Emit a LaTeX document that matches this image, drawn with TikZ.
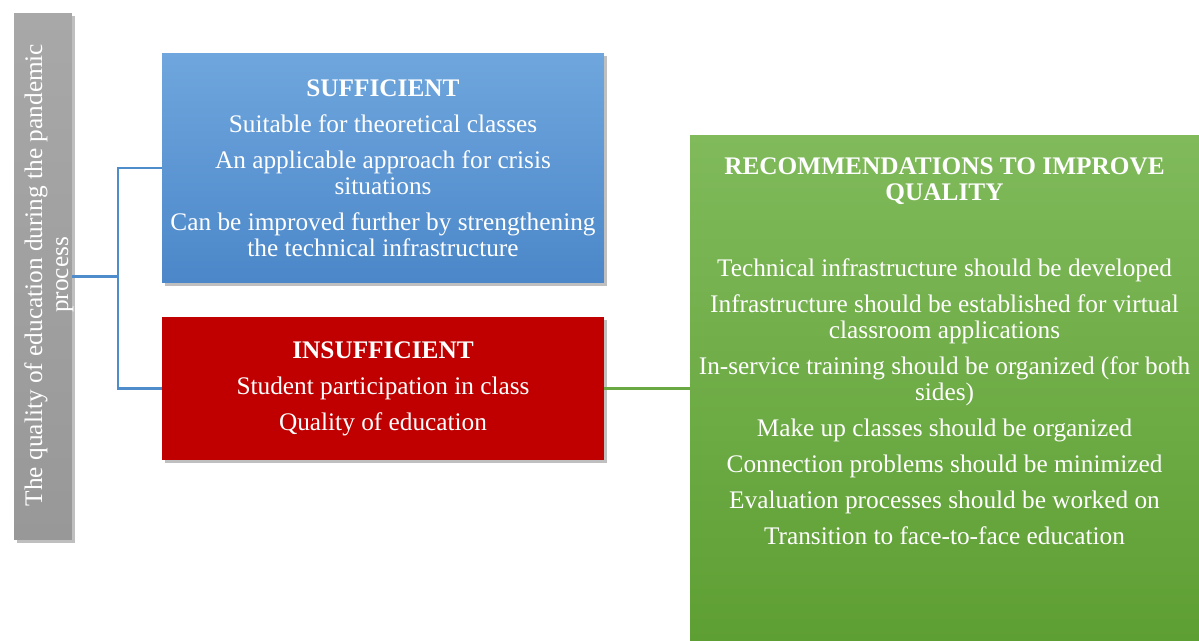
\documentclass[tikz,border=0pt]{standalone}
\usepackage{fontspec}
\setmainfont{Liberation Serif}
\usetikzlibrary{calc}
\usetikzlibrary{shadows}
\definecolor{barT}{HTML}{A8A8A8}
\definecolor{barB}{HTML}{989898}
\definecolor{suffT}{HTML}{6FA6DD}
\definecolor{suffB}{HTML}{4B87C9}
\definecolor{insuffC}{HTML}{C00000}
\definecolor{recomT}{HTML}{80BA5B}
\definecolor{recomB}{HTML}{5E9F33}
\definecolor{bluelink}{HTML}{4F8CCB}
\definecolor{greenlink}{HTML}{6AA843}
\def\txt{\fontsize{14.4}{14.8}\selectfont}

\begin{document}
\begin{tikzpicture}[x=0.02cm,y=-0.02cm,
  box/.style={rectangle, inner sep=0pt, align=center, text=white, font=\txt,
    drop shadow={shadow xshift=1.6pt, shadow yshift=-1.8pt, opacity=0.25, fill=black}},
  link/.style={line width=1.3pt}]

  \useasboundingbox (0,0) rectangle (1199,641); %page

  % left bar
  \node[box, top color=barT, bottom color=barB, minimum width=1.16cm, minimum height=10.54cm] (qual) at (43,276.5) {};
  \node[rotate=90, align=center, text=white, font=\txt] (qualtext) at (49,275)
    {The quality of education during the pandemic\\process};

  % sufficient
  \node[box, top color=suffT, bottom color=suffB, minimum width=8.84cm, minimum height=4.6cm] (suff) at (383,168)
    {\textbf{SUFFICIENT}\\[5.7pt]
     Suitable for theoretical classes\\[5.7pt]
     An applicable approach for crisis\\situations\\[5.7pt]
     Can be improved further by strengthening\\the technical infrastructure};

  % insufficient
  \node[box, fill=insuffC, minimum width=8.84cm, minimum height=2.86cm] (insuff) at (383,388.5)
    {\textbf{INSUFFICIENT}\\[5.7pt]
     Student participation in class\\[5.7pt]
     Quality of education};

  % recommendations
  \node[box, top color=recomT, bottom color=recomB, minimum width=10.18cm, minimum height=10.12cm] (recom) at (944.5,388) {};
  \node[anchor=north, align=center, text=white, font=\txt, inner sep=0pt] (recomtext) at ($(recom.north)+(0,23)$)
    {\textbf{RECOMMENDATIONS TO IMPROVE}\\\textbf{QUALITY}\\[28pt]
     Technical infrastructure should be developed\\[5.7pt]
     Infrastructure should be established for virtual\\classroom applications\\[5.7pt]
     In-service training should be organized (for both\\sides)\\[5.7pt]
     Make up classes should be organized\\[5.7pt]
     Connection problems should be minimized\\[5.7pt]
     Evaluation processes should be worked on\\[5.7pt]
     Transition to face-to-face education};

  % connectors
  \draw[link, bluelink] (qual.east) -- ++(46,0) coordinate (fork); %fork point
  \draw[link, bluelink] (fork) |- (suff.west);
  \draw[link, bluelink] (fork) |- (insuff.west);
  \draw[link, greenlink] (insuff.east) -- (recom.west |- insuff.east);

\end{tikzpicture}
\end{document}
